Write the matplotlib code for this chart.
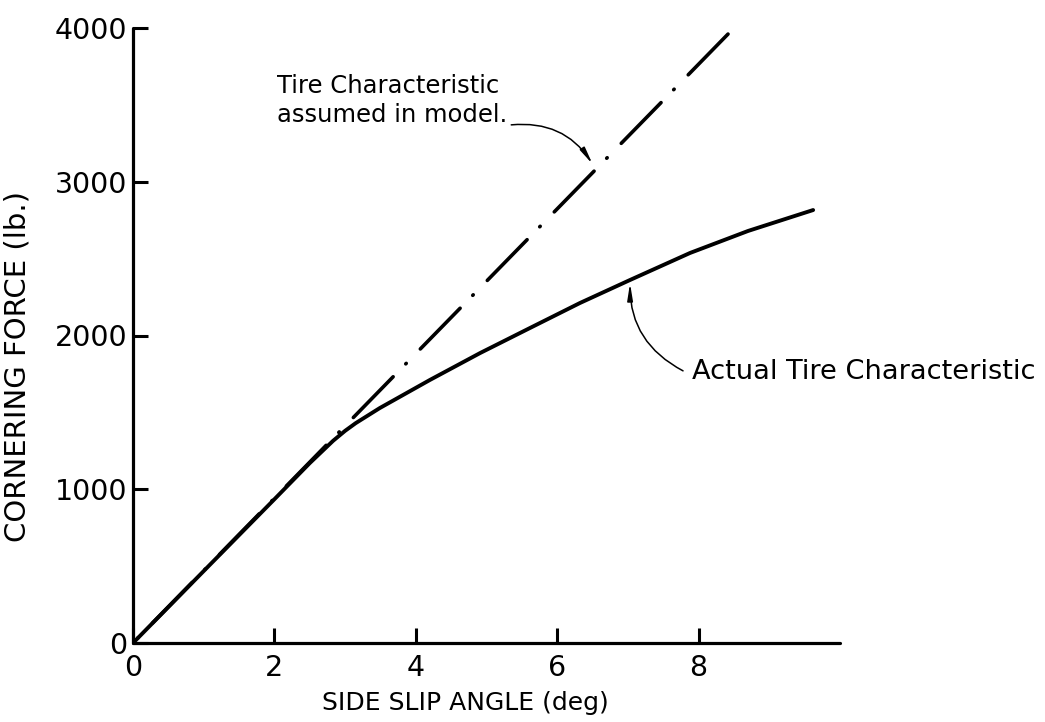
import matplotlib
matplotlib.use("Agg")
import matplotlib.pyplot as plt

plt.rcParams['font.family'] = ['DejaVu Sans']
plt.rcParams['lines.scale_dashes'] = False

# data
slip_deg = [0, 1, 2, 2.5, 2.83, 3.0, 3.15, 3.49, 4.2, 4.91, 5.62, 6.32, 7.03, 7.88, 8.7, 9.62]
actual_lb = [0, 468, 935, 1170, 1315, 1380, 1430, 1528, 1711, 1886, 2050, 2211, 2361, 2537, 2680, 2816]
model_slip = [0, 8.5]
model_lb = [0, 4000]
x_ticks = [0, 2, 4, 6, 8]
y_ticks = [0, 1000, 2000, 3000, 4000]

W, H = 1045, 722
fig = plt.figure(figsize=(W / 100, H / 100), dpi=100)
ax = fig.add_axes([133 / W, 1 - 643 / H, (840 - 133) / W, (643 - 28) / H])
ax.set_xlim(0, 10)
ax.set_ylim(0, 4000)

for s in ('top', 'right'):
    ax.spines[s].set_visible(False)
for s in ('left', 'bottom'):
    ax.spines[s].set_linewidth(2.3)
    ax.spines[s].set_capstyle('round')

ax.set_xticks(x_ticks)
ax.set_yticks(y_ticks)
ax.tick_params(direction='in', length=11, width=2.2, labelsize=20.5, color='black')
ax.tick_params(axis='x', pad=8)
ax.tick_params(axis='y', pad=4)

ax.plot(model_slip, model_lb, color='black', lw=2.6,
        linestyle=(49, (41, 13, 0.5, 14.5)), dash_capstyle='round',
        solid_capstyle='round', zorder=2)
ax.plot(slip_deg, actual_lb, color='black', lw=2.8, solid_capstyle='round',
        solid_joinstyle='round', zorder=3)

ax.set_xlabel('SIDE SLIP ANGLE (deg)', fontsize=18, va='center')
ax.xaxis.set_label_coords(0.47, -0.0976)
ax.set_ylabel('CORNERING FORCE (lb.)', fontsize=21, va='center')
ax.yaxis.set_label_coords(-0.163, 0.45)

# annotations
ax.text(2.03, 3530, 'Tire Characteristic\nassumed in model.', fontsize=17.5,
        ha='left', va='center', linespacing=1.25)
ax.annotate('', xy=(6.5, 3115), xytext=(5.35, 3370),
            arrowprops=dict(arrowstyle='-|>,head_length=1.0,head_width=0.16',
                            color='black', lw=1.1, shrinkA=0, shrinkB=0,
                            connectionstyle='arc3,rad=-0.3'))
ax.text(7.9, 1760, 'Actual Tire Characteristic', fontsize=19.6,
        ha='left', va='center')
ax.annotate('', xy=(7.03, 2340), xytext=(7.78, 1770),
            arrowprops=dict(arrowstyle='-|>,head_length=1.0,head_width=0.16',
                            color='black', lw=1.1, shrinkA=0, shrinkB=0,
                            connectionstyle='arc3,rad=-0.3'))

fig.savefig('out.png', dpi=100)
